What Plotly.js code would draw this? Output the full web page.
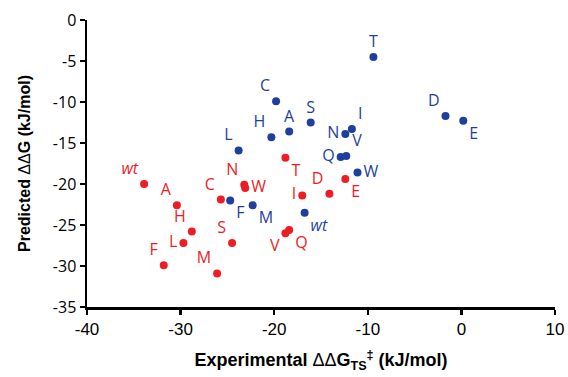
<!DOCTYPE html>
<html>
<head>
<meta charset="utf-8">
<script src="https://cdn.plot.ly/plotly-3.0.1.min.js"></script>
<style>html,body{margin:0;padding:0;background:#fff;}#chart{width:568px;height:377px;}</style>
</head>
<body>
<div id="chart"></div>
<script>
// Blue series
const blueLabels = ["C","S","A","H","L","T","D","E","I","N","Q","V","W","F","M","<i>wt</i>"];
const blueX = [-19.8,-16.1,-18.4,-20.3,-23.8,-9.4,-1.7,0.2,-11.7,-12.4,-12.9,-12.3,-11.1,-24.7,-22.3,-16.75];
const blueY = [-9.9,-12.5,-13.6,-14.3,-15.9,-4.5,-11.7,-12.3,-13.3,-13.9,-16.7,-16.6,-18.6,-22.0,-22.6,-23.5];
const bluePos = ["top left","top center","top center","top left","top left","top center","top left","bottom right","top right","middle left","middle left","top right","middle right","bottom right","bottom right","bottom right"];

// Red series
const redLabels = ["<i>wt</i>","A","H","L","F","M","S","C","N","W","T","I","D","E","V","Q"];
const redX = [-33.9,-30.4,-28.8,-29.7,-31.8,-26.1,-24.5,-25.7,-23.2,-23.1,-18.8,-17.0,-14.1,-12.4,-18.8,-18.4];
const redY = [-20.0,-22.6,-25.8,-27.2,-29.9,-30.9,-27.2,-21.9,-20.1,-20.5,-16.8,-21.4,-21.2,-19.4,-26.0,-25.6];
const redPos = ["top left","top left","top left","middle left","top left","top left","top left","top left","top left","middle right","bottom right","middle left","top left","bottom right","bottom left","bottom right"];

// Tick labels
const xTickVals = [-40,-30,-20,-10,0,10];
const xTickText = ["-40","-30","-20","-10","0","10"];
const yTickVals = [0,-5,-10,-15,-20,-25,-30,-35];
const yTickText = ["0","-5","-10","-15","-20","-25","-30","-35"];

const blue = "#1f3f9f";
const red = "#ee1c25";

const traces = [
  {x: redX, y: redY, text: redLabels, textposition: redPos, mode: "markers+text", type: "scatter",
   marker: {color: red, size: 8}, textfont: {family: "Open Sans", size: 16, color: red}, cliponaxis: false, hoverinfo: "none"},
  {x: blueX, y: blueY, text: blueLabels, textposition: bluePos, mode: "markers+text", type: "scatter",
   marker: {color: blue, size: 8}, textfont: {family: "Open Sans", size: 16, color: blue}, cliponaxis: false, hoverinfo: "none"}
];

const layout = {
  width: 568, height: 377,
  margin: {l: 87, r: 13, t: 20, b: 70},
  paper_bgcolor: "#fff", plot_bgcolor: "#fff",
  showlegend: false,
  xaxis: {
    range: [-40, 10], tickvals: xTickVals, ticktext: xTickText,
    showgrid: false, zeroline: false,
    showline: true, linecolor: "#000", linewidth: 2.5,
    ticks: "outside", ticklen: 5, tickwidth: 2.5, tickcolor: "#000",
    tickfont: {family: "Liberation Sans", size: 17, color: "#000"},
    title: {text: "<b>Experimental </b>ΔΔ<b>G<sub>TS</sub><sup>‡</sup> (kJ/mol)</b>", font: {family: "Liberation Sans", size: 18, color: "#000"}, standoff: 16}
  },
  yaxis: {
    range: [-35, 0], tickvals: yTickVals, ticktext: yTickText,
    showgrid: false, zeroline: false,
    showline: true, linecolor: "#000", linewidth: 2.5,
    ticks: "outside", ticklen: 5, tickwidth: 2.5, tickcolor: "#000",
    tickfont: {family: "Open Sans", size: 16, color: "#000"},
    title: {text: "<b>Predicted </b>ΔΔ<b>G (kJ/mol)</b>", font: {family: "Liberation Sans", size: 16, color: "#000"}, standoff: 18}
  }
};

Plotly.newPlot("chart", traces, layout, {displayModeBar: false, staticPlot: true});
</script>
</body>
</html>
